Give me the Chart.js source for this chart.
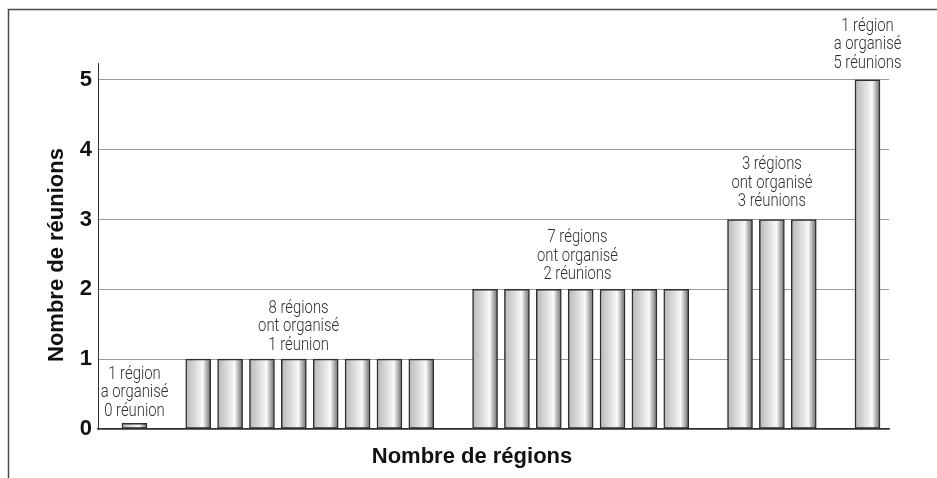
<!DOCTYPE html>
<html>
<head>
<meta charset="utf-8">
<script src="https://cdn.jsdelivr.net/npm/chart.js@4"></script>
<style>
html,body{margin:0;padding:0;background:#fff;}
canvas{display:block;}
</style>
</head>
<body>
<canvas id="c" width="937" height="478"></canvas>
<script>
// Slots along the x axis (one per region, blanks between groups)
const categories = ['R1','','R2','R3','R4','R5','R6','R7','R8','R9','','R10','R11','R12','R13','R14','R15','R16','','R17','R18','R19','','R20'];
// Number of meetings per region (0 shown as a tiny stub)
const values = [0.08, null, 1,1,1,1,1,1,1,1, null, 2,2,2,2,2,2,2, null, 3,3,3, null, 5];
const yTicks = [0,1,2,3,4,5];
const groupLabels = [
  ['1 région','a organisé','0 réunion'],
  ['8 régions','ont organisé','1 réunion'],
  ['7 régions','ont organisé','2 réunions'],
  ['3 régions','ont organisé','3 réunions'],
  ['1 région','a organisé','5 réunions']
];
const groupLabelX = [0, 5.15, 13.9, 20, 23];
const groupLabelY = [0.26, 1.2, 2.21, 3.26, 5.24];
const xTitle = 'Nombre de régions';
const yTitle = 'Nombre de réunions';

const points = values.map((v,i)=>({x:i, y:v}));
const BAR_W = 25;

function barGradient(ctx){
  const chart = ctx.chart;
  const xs = chart.scales && chart.scales.x;
  if(!xs || !ctx.parsed || ctx.parsed.x == null) return '#d0d0d0';
  const cx = xs.getPixelForValue(ctx.parsed.x);
  if(!isFinite(cx)) return '#d0d0d0';
  const g = chart.ctx.createLinearGradient(cx - BAR_W/2, 0, cx + BAR_W/2, 0);
  g.addColorStop(0, '#b8b8b8');
  g.addColorStop(0.25, '#cfcfcf');
  g.addColorStop(0.55, '#ebebeb');
  g.addColorStop(0.68, '#fbfbfb');
  g.addColorStop(0.8, '#c2c2c2');
  g.addColorStop(0.92, '#8e8e8e');
  g.addColorStop(1, '#7a7a7a');
  return g;
}

const decor = {
  id: 'decor',
  beforeDraw(chart){
    const c = chart.ctx;
    c.save();
    c.fillStyle = '#fff';
    c.fillRect(0,0,chart.width,chart.height);
    c.strokeStyle = '#4a4a4a';
    c.lineWidth = 1.5;
    c.beginPath();
    c.moveTo(8.5, chart.height);
    c.lineTo(8.5, 9.5);
    c.lineTo(chart.width, 9.5);
    c.stroke();
    c.restore();
  },
  afterDraw(chart){
    const c = chart.ctx;
    const xs = chart.scales.x, ys = chart.scales.y;
    c.save();
    c.font = '300 19px Roboto, "Liberation Sans", Arial, sans-serif';
    c.fillStyle = '#2e2e2e';
    c.textAlign = 'center';
    c.textBaseline = 'middle';
    const sx = Math.min(1, 81 / c.measureText('ont organisé').width);
    groupLabels.forEach((lines, gi) => {
      const px = xs.getPixelForValue(groupLabelX[gi]);
      const pyBottom = ys.getPixelForValue(groupLabelY[gi]);
      const n = lines.length;
      lines.forEach((t, li) => {
        c.save();
        c.translate(px, pyBottom - (n-1-li)*18.5);
        c.scale(sx, 1);
        c.fillText(t, 0, 0);
        c.restore();
      });
    });
    c.font = 'bold 22px "Liberation Sans", Arial, sans-serif';
    c.fillStyle = '#111';
    c.fillText(xTitle, 472, 457);
    c.translate(57, 255);
    c.rotate(-Math.PI/2);
    c.fillText(yTitle, 0, 0);
    c.restore();
  }
};

new Chart(document.getElementById('c'), {
  type: 'bar',
  data: {
    labels: categories,
    datasets: [{
      data: points,
      backgroundColor: barGradient,
      borderColor: '#2e2e2e',
      borderWidth: 1.5,
      borderSkipped: false,
      barThickness: BAR_W
    }]
  },
  options: {
    responsive: false,
    animation: false,
    devicePixelRatio: 1,
    layout: { padding: { left: 0, top: 63, right: 48, bottom: 49 } },
    plugins: { legend: { display: false }, tooltip: { enabled: false }, title: { display: false } },
    scales: {
      x: {
        type: 'linear',
        offset: false,
        min: -1.145,
        max: 23.675,
        grid: { display: false },
        ticks: { display: false },
        border: { display: true, color: '#2e2e2e', width: 1.5 },
        afterFit(s){ s.height = 0; }
      },
      y: {
        min: 0,
        max: 5.24,
        afterBuildTicks(s){ s.ticks = yTicks.map(v => ({ value: v })); },
        ticks: {
          padding: 6,
          color: '#111',
          font: { family: '"Liberation Sans", Arial, sans-serif', size: 22, weight: 'bold' }
        },
        grid: { color: '#9a9a9a', lineWidth: 1, drawTicks: false },
        border: { display: true, color: '#333', width: 1 },
        afterFit(s){ s.width = 98; }
      }
    }
  },
  plugins: [decor]
});
</script>
</body>
</html>
